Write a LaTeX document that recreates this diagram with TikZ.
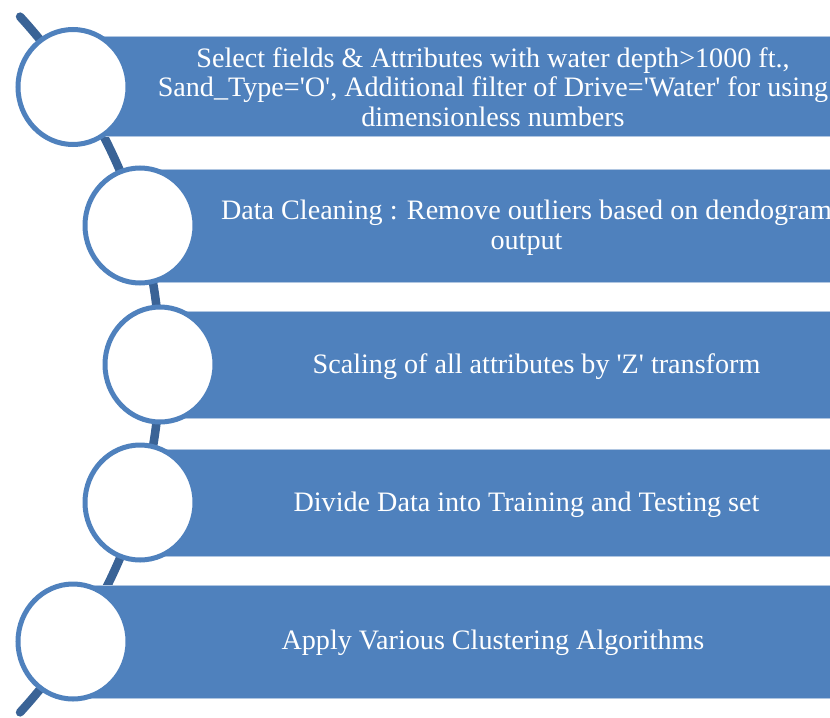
\documentclass[tikz,border=0pt]{standalone}
\usepackage{fontspec}
\setmainfont{Liberation Serif}
\usetikzlibrary{shapes.geometric}
\definecolor{boxblue}{HTML}{4F81BD}
\definecolor{arcblue}{HTML}{3A6396}
\newcommand{\sq}{\textquotesingle}
\begin{document}
\begin{tikzpicture}[x=0.75pt,y=-0.75pt,
  listbar/.style={rectangle, fill=boxblue, draw=white!55!boxblue, line width=0.6pt,
    anchor=west, inner sep=0},
  bead/.style={ellipse, fill=white, draw=boxblue, line width=3.75pt,
    minimum width=82.5pt, minimum height=86.25pt, inner sep=0},
  caption/.style={text=white, align=center, inner sep=0,
    font=\fontsize{21.1pt}{22.2pt}\selectfont},
  spine/.style={draw=arcblue, line width=6.4pt, line cap=round}]
\useasboundingbox (0,0) rectangle (830,717);
\clip (0,0) rectangle (830,717);

% curved spine running through the beads
\coordinate (spinetop) at ({-500+660*cos(-38.0)},{364.5+565*sin(-38.0)});
\coordinate (spinebot) at ({-500+660*cos(38.0)},{364.5+565*sin(38.0)});
\draw[spine] plot[domain=-38.0:38.0, samples=80, smooth]
  ({-500+660*cos(\x)},{364.5+565*sin(\x)});

% bars
\node[listbar, minimum width=571.5pt, minimum height=75pt]    (bar1) at (73,86) {};
\node[listbar, minimum width=521.25pt, minimum height=84.75pt] (bar2) at (140,225.5) {};
\node[listbar, minimum width=506.25pt, minimum height=80.25pt] (bar3) at (160,364.5) {};
\node[listbar, minimum width=521.25pt, minimum height=80.25pt] (bar4) at (140,502.5) {};
\node[listbar, minimum width=571.5pt, minimum height=84.75pt]  (bar5) at (73,641.5) {};

% beads on the spine
\node[bead] (bead1) at (73,87) {};
\node[bead] (bead2) at (140,225.5) {};
\node[bead] (bead3) at (160,364.5) {};
\node[bead] (bead4) at (140,502.5) {};
\node[bead] (bead5) at (73,641.5) {};

% texts
\node[caption] (txt1) at (493,87) {Select fields \& Attributes with water depth>1000 ft.,\\
  Sand\_Type=\sq O\sq, Additional filter of Drive=\sq Water\sq\ for using\\
  dimensionless numbers};
\node[caption] (txt2) at (526.5,227.5) {Data Cleaning : Remove outliers based on dendogram\\ output};
\node[caption] (txt3) at (536.5,366.5) {Scaling of all attributes by \sq Z\sq\ transform};
\node[caption] (txt4) at (526.5,504.5) {Divide Data into Training and Testing set};
\node[caption] (txt5) at (493,642.5) {Apply Various Clustering Algorithms};
\end{tikzpicture}
\end{document}
